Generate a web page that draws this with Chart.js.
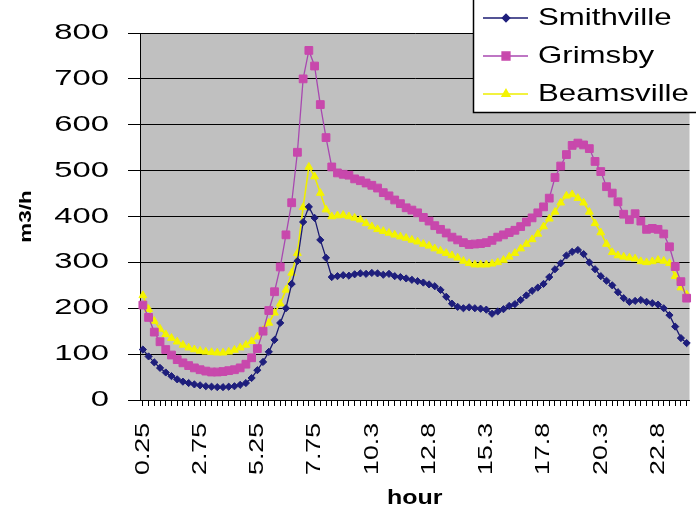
<!DOCTYPE html>
<html>
<head>
<meta charset="utf-8">
<script src="https://cdn.jsdelivr.net/npm/chart.js@4.4.1/dist/chart.umd.min.js"></script>
<style>
html,body{margin:0;padding:0;background:#fff;}
canvas{display:block;}
</style>
</head>
<body>
<canvas id="c" width="696" height="512"></canvas>
<script>
// ---- data ----
const hours = [
  0.25,0.5,0.75,1,1.25,1.5,1.75,2,2.25,2.5,
  2.75,3,3.25,3.5,3.75,4,4.25,4.5,4.75,5,
  5.25,5.5,5.75,6,6.25,6.5,6.75,7,7.25,7.5,
  7.75,8,8.25,8.5,8.75,9,9.25,9.5,9.75,10,
  10.25,10.5,10.75,11,11.25,11.5,11.75,12,12.25,12.5,
  12.75,13,13.25,13.5,13.75,14,14.25,14.5,14.75,15,
  15.25,15.5,15.75,16,16.25,16.5,16.75,17,17.25,17.5,
  17.75,18,18.25,18.5,18.75,19,19.25,19.5,19.75,20,
  20.25,20.5,20.75,21,21.25,21.5,21.75,22,22.25,22.5,
  22.75,23,23.25,23.5,23.75,24
];
const tickLabels = ['0.25','2.75','5.25','7.75','10.3','12.8','15.3','17.8','20.3','22.8'];
const seriesNames = ['Smithville','Grimsby','Beamsville'];

const smithville = [
  110,95,82,70,60,52,45,40,37,34,
  32,30,29,28,28,29,30,33,37,48,
  65,83,105,131,168,200,253,303,388,421,
  397,349,310,268,270,272,271,274,276,275,
  277,276,273,275,270,268,265,262,259,256,
  252,248,240,225,210,203,200,202,200,199,
  197,188,193,198,205,209,218,228,238,245,
  253,268,285,298,315,323,327,318,300,285,
  270,260,250,235,222,214,216,218,214,211,
  208,200,185,160,135,124
];
const grimsby = [
  207,180,148,127,110,98,88,81,75,70,
  66,63,61,61,62,64,66,70,78,92,
  112,150,195,236,290,360,430,540,700,762,
  728,644,572,508,495,492,490,482,478,473,
  468,462,452,445,436,428,419,414,408,398,
  390,380,372,364,355,349,343,339,340,341,
  343,348,355,360,365,370,378,388,397,408,
  421,440,485,510,535,555,560,556,548,520,
  498,465,451,432,405,393,406,390,372,374,
  372,362,334,291,258,222
];
const beamsville = [
  228,198,172,155,143,135,127,120,114,110,
  107,105,104,103,103,105,109,114,120,128,
  138,152,168,190,210,240,277,320,420,508,
  487,451,415,400,402,403,400,397,393,385,
  378,372,368,364,360,356,353,349,345,340,
  336,330,325,320,315,310,303,298,295,295,
  295,297,300,305,312,320,330,340,350,362,
  378,395,410,430,445,448,440,430,410,385,
  365,340,322,315,312,310,308,302,300,302,
  305,303,298,270,245,230
];

// ---- styles ----
const FONT = '"Liberation Sans", Arial, sans-serif';
Chart.defaults.font.family = FONT;
Chart.defaults.color = '#000';

// Excel-like wide glyphs: stretch text along its direction, keyed by font size
const STRETCH = {21: 1.27, 22: 1.49, 16: 1.4, 20: 1.25, 24: 1.3};
const wideText = {
  id: 'wideText',
  beforeInit(chart) {
    const ctx = chart.ctx;
    if (ctx.__wide) return;
    const orig = ctx.fillText;
    ctx.fillText = function (text, x, y, maxWidth) {
      const m = /(\d+(?:\.\d+)?)px/.exec(this.font);
      const k = (m && STRETCH[Math.round(+m[1])]) || 1;
      this.save();
      this.translate(x, y);
      this.scale(k, 1);
      if (maxWidth === undefined) orig.call(this, text, 0, 0);
      else orig.call(this, text, 0, 0, maxWidth / k);
      this.restore();
    };
    ctx.__wide = true;
  }
};

const plotBg = {
  id: 'plotBg',
  beforeDraw(chart) {
    const {ctx, chartArea: a} = chart;
    ctx.save();
    ctx.fillStyle = '#C0C0C0';
    ctx.fillRect(a.left, a.top, a.right - a.left, a.bottom - a.top);
    ctx.restore();
  }
};

const boxLegend = {
  id: 'boxLegend',
  afterDraw(chart) {
    const ctx = chart.ctx;
    ctx.save();
    ctx.fillStyle = '#fff';
    ctx.fillRect(473, -5, 230, 117);
    ctx.strokeStyle = '#000';
    ctx.lineWidth = 1.5;
    ctx.strokeRect(473.5, -5, 230, 117.5);
    chart.data.datasets.forEach((ds, i) => {
      const y = 18 + i * 38;
      ctx.strokeStyle = ds.borderColor;
      ctx.lineWidth = 1.5;
      ctx.beginPath();
      ctx.moveTo(483, y);
      ctx.lineTo(528, y);
      ctx.stroke();
      ctx.fillStyle = ds.pointBackgroundColor;
      ctx.strokeStyle = ds.pointBorderColor;
      Chart.helpers.drawPoint(ctx, {pointStyle: ds.pointStyle, radius: ds.pointRadius, borderWidth: 1, rotation: 0}, 506, y);
      ctx.fillStyle = '#000';
      ctx.font = '24px ' + FONT;
      ctx.textAlign = 'left';
      ctx.textBaseline = 'middle';
      ctx.fillText(ds.label, 538, y);
    });
    ctx.restore();
  }
};

new Chart(document.getElementById('c'), {
  type: 'line',
  data: {
    labels: hours,
    datasets: [
      {
        label: seriesNames[0], data: smithville,
        borderColor: '#1B1B72', borderWidth: 1.3,
        pointStyle: 'rectRot', pointRadius: 3.6,
        pointBackgroundColor: '#1E1E7C', pointBorderColor: '#1E1E7C', pointBorderWidth: 1
      },
      {
        label: seriesNames[1], data: grimsby,
        borderColor: '#A848B0', borderWidth: 1.3,
        pointStyle: 'rect', pointRadius: 5.5,
        pointBackgroundColor: '#C848AC', pointBorderColor: '#C848AC', pointBorderWidth: 1
      },
      {
        label: seriesNames[2], data: beamsville,
        borderColor: '#EEEE00', borderWidth: 1.6,
        pointStyle: 'triangle', pointRadius: 4.5,
        pointBackgroundColor: '#F4F400', pointBorderColor: '#F4F400', pointBorderWidth: 1
      }
    ]
  },
  options: {
    responsive: false,
    animation: false,
    devicePixelRatio: 1,
    layout: {padding: {left: 0, right: 5, top: 33, bottom: 0}},
    elements: {line: {tension: 0}},
    plugins: {legend: {display: false}, tooltip: {enabled: false}},
    scales: {
      x: {
        type: 'category',
        offset: true,
        grid: {drawOnChartArea: false, color: '#000', tickLength: 6, lineWidth: 1},
        border: {color: '#000', width: 1},
        ticks: {
          autoSkip: false, maxRotation: 90, minRotation: 90,
          padding: 17, color: '#000',
          font: {size: 21},
          callback: (v, i) => (i % 10 === 0 ? tickLabels[i / 10] : '')
        },
        title: {display: true, text: 'hour', color: '#000', font: {size: 20, weight: 'bold'}, padding: {top: 0, bottom: 2}},
        afterFit(s) { s.height = 112; s.paddingLeft = 0; s.paddingRight = 0; }
      },
      y: {
        min: 0, max: 800,
        grid: {color: '#000', lineWidth: 1, tickLength: 12},
        border: {color: '#000', width: 1},
        ticks: {stepSize: 100, padding: 19, color: '#000', font: {size: 22}},
        title: {display: true, text: 'm3/h', color: '#000', font: {size: 16, weight: 'bold'}, padding: {top: 17, bottom: 0}},
        afterFit(s) { s.width = 140; s.paddingTop = 0; s.paddingBottom = 0; }
      }
    }
  },
  plugins: [wideText, plotBg, boxLegend]
});
</script>
</body>
</html>
